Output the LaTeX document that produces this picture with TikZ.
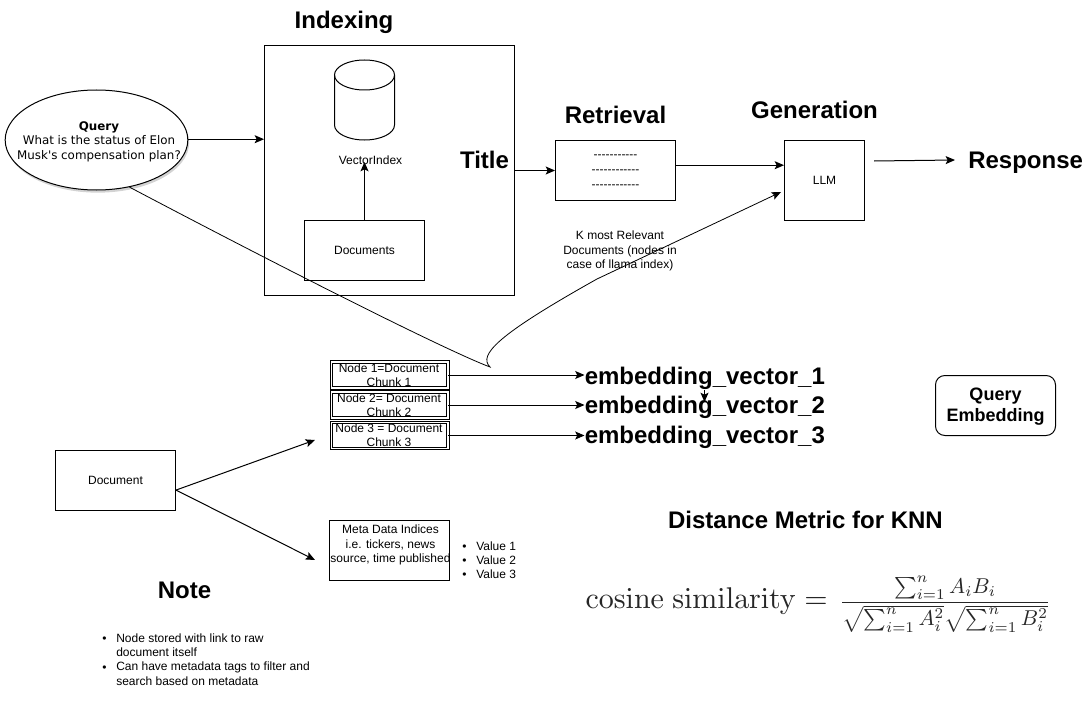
\documentclass[tikz,border=0pt]{standalone}
\usepackage{amsmath, amssymb}
\usepackage[no-math]{fontspec}
\setmainfont{Liberation Sans}
\newfontfamily\plainfont{Liberation Sans}
\newfontfamily\queryfont{DejaVu Sans}
\usetikzlibrary{shapes, shapes.geometric, arrows.meta, shadows, positioning, calc}

\tikzset{
    >={Stealth[length=7pt,width=6pt,inset=1.5pt]},
    smalltext/.style={inner sep=0, align=center, font=\fontsize{9}{10.8}\selectfont},
    headtext/.style={inner sep=0, font=\fontsize{18}{21.6}\selectfont\bfseries},
    box/.style={draw, line width=0.75pt, inner sep=0, minimum width=90pt, minimum height=45pt, smalltext},
    chunkbox/.style={draw, line width=0.75pt, double, double distance=1.1pt, inner sep=0, minimum width=87.4pt, minimum height=19.7pt},
    link/.style={->, line width=0.75pt},
    bullet/.style={inner sep=0, font=\fontsize{9}{10.8}\selectfont},
    listtext/.style={inner sep=0, anchor=west, font=\fontsize{9}{10.8}\selectfont}
}

\begin{document}
\begin{tikzpicture}[x=0.75pt, y=-0.75pt]
    \useasboundingbox (0,0) rectangle (1082,710);

    % indexing
    \node[draw, line width=0.75pt, minimum width=187.5pt, minimum height=187.5pt] (index) at (389.5,170.5) {};
    \node[headtext] (indexhead) at (344,22.5) {Indexing};
    \draw[line width=0.75pt] (364.5,75) ellipse [x radius=30, y radius=15];
    \draw[line width=0.75pt] (334.5,75) -- (334.5,125) arc [start angle=180, end angle=0, x radius=30, y radius=15] -- (394.5,75);
    \node[smalltext] (vecindex) at (370.5,160) {VectorIndex};
    \node[box] (docs) at (364.5,250.5) {Documents};
    \node[headtext] (titlehead) at (484.5,160) {Title};

    % query
    \node[draw, line width=0.75pt, ellipse, fill=white, inner sep=0, minimum width=137pt, minimum height=75pt,
        drop shadow={opacity=0.35, shadow xshift=1pt, shadow yshift=-2pt}] (query) at (96.5,140) {};
    \node[inner sep=0, align=center, font=\queryfont\fontsize{8.9}{10.8}\selectfont] (querytext) at (99,141.5)
        {\textbf{Query}\\What is the status of Elon\\Musk's compensation plan?};

    % retrieval, generation
    \node[headtext] (retrhead) at (615.5,115) {Retrieval};
    \node[box, minimum height=45pt] (retr) at (615.5,170.5) {};
    \node[smalltext, font=\plainfont\fontsize{9}{11.25}\selectfont] (retrtext) at (615.5,172) {-----------\\------------\\------------};
    \node[headtext] (genhead) at (814.5,110) {Generation};
    \node[box, minimum width=60pt, minimum height=60pt] (llm) at (824.5,180.5) {LLM};
    \node[headtext, anchor=west] (resp) at (968,162.5) {Response};
    \node[smalltext] (relevant) at (620,251) {K most Relevant\\Documents (nodes in\\case of llama index)};

    % chunks
    \node[chunkbox] (chunka) at (389.5,375) {};
    \node[chunkbox] (chunkb) at (389.5,405) {};
    \node[chunkbox] (chunkc) at (389.5,435.5) {};
    \node[smalltext] (chunkatext) at (389,375) {Node 1=Document\\Chunk 1};
    \node[smalltext] (chunkbtext) at (389,405) {Node 2= Document\\Chunk 2};
    \node[smalltext] (chunkctext) at (389,435) {Node 3 = Document\\Chunk 3};
    \node[headtext, anchor=west] (emba) at (584.5,378) {embedding\_vector\_1};
    \node[headtext, anchor=west] (embb) at (584.5,407.5) {embedding\_vector\_2};
    \node[headtext, anchor=west] (embc) at (584.5,437.5) {embedding\_vector\_3};

    \node[draw, line width=0.75pt, rounded corners=7pt, minimum width=90pt, minimum height=45pt, inner sep=0] (queryemb) at (995.5,405.5) {};
    \node[inner sep=0, align=center, font=\fontsize{13.5}{16.2}\selectfont\bfseries] (queryembtext) at (995.5,406.5) {Query\\Embedding};

    % document side
    \node[box] (doc) at (115.5,480.5) {Document};
    \node[box] (meta) at (389.5,550.5) {};
    \node[smalltext] (metatext) at (390.5,545) {Meta Data Indices\\i.e. tickers, news\\source, time published};

    \foreach \name/\ypos/\txt in {vala/546/Value 1, valb/560/Value 2, valc/574.5/Value 3} {
        \node[bullet, yshift=-1pt] (\name dot) at (464.5,\ypos) {\textbullet};
        \node[listtext] (\name) at (476,\ypos) {\txt};
    }

    \node[headtext] (notehead) at (184.5,590) {Note};
    \node[bullet, yshift=-1pt] (noteadot) at (104.5,638) {\textbullet};
    \node[listtext] (notea) at (116,638) {Node stored with link to raw};
    \node[listtext] (noteb) at (116,652.5) {document itself};
    \node[bullet, yshift=-1pt] (notecdot) at (104.5,667) {\textbullet};
    \node[listtext] (notec) at (116,667) {Can have metadata tags to filter and};
    \node[listtext] (noted) at (116,681.5) {search based on metadata};

    % metric
    \node[headtext] (metrichead) at (805.5,520) {Distance Metric for KNN};
    \node[inner sep=0, scale=2.25, anchor=west, text=black!85] (metriclhs) at (585,601) {$\mathrm{cosine\ similarity} =$};
    \node[inner sep=0, scale=1.61, text=black!85] (metricfrac) at (945,604) {$\dfrac{\sum_{i=1}^{n} A_i B_i}{\sqrt{\sum_{i=1}^{n} A_i^2}\sqrt{\sum_{i=1}^{n} B_i^2}}$};

    \coordinate (vectip) at (364.5,162);
    \coordinate (resptail) at (874,161);
    \coordinate (resptip) at (955,160);
    \coordinate (docup) at (315,440);
    \coordinate (docdown) at (315,560);
    \coordinate (hook) at (490,367);
    \coordinate (llmtip) at (781,192);
    \coordinate (embatop) at (704.5,390);
    \coordinate (embbtop) at (704.5,402);

    \draw[link] (query.east |- index.166.7) -- (index.166.7);
    \draw[link] (docs.north) -- (vectip);
    \draw[link] (index.east) -- (retr.west);
    \draw[link] (retr.5) -- (retr.5 -| llm.west);
    \draw[link] (resptail) -- (resptip);
    \draw[link] (chunka.east) -- (chunka.east -| emba.west);
    \draw[link] (chunkb.east) -- (chunkb.east -| embb.west);
    \draw[link] (chunkc.east) -- (chunkc.east -| embc.west);
    \draw[link] (embatop) -- (embbtop);
    \draw[link] (doc.-9.5) -- (docup);
    \draw[link] (doc.-9.5) -- (docdown);
    \draw[->, line width=0.6pt] (query.-55) .. controls (300,277) and (450,352) .. (hook)
        .. controls (478,355) and (497,335) .. (597,279) -- (llmtip);
\end{tikzpicture}
\end{document}
